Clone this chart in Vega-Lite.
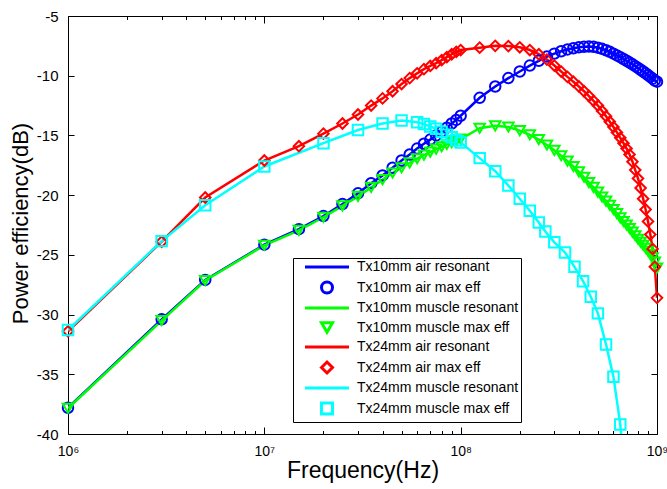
{
  "$schema": "https://vega.github.io/schema/vega-lite/v6.json",
  "width": 589,
  "height": 418,
  "autosize": {"type": "none"},
  "padding": {"left": 68, "top": 16, "right": 10, "bottom": 55},
  "background": "white",
  "config": {
    "view": {"stroke": null},
    "font": "Liberation Sans",
    "axis": {"grid": false, "domainColor": "black", "tickColor": "black", "labelColor": "black", "titleColor": "black", "labelFont": "Liberation Sans", "titleFont": "Liberation Sans", "titleFontWeight": "normal", "domainWidth": 1, "tickWidth": 1, "labelFlush": false, "labelOverlap": false},
    "legend": {"labelFont": "Liberation Sans", "labelFontSize": 14, "labelColor": "black", "strokeColor": "black", "fillColor": "white", "padding": 2, "symbolSize": 121, "symbolStrokeWidth": 3, "symbolOffset": 25, "labelOffset": 23, "rowPadding": 1.5, "labelLimit": 400}
  },
  "datasets": {
    "d": [
      {"f": 1000000, "v": -37.8, "ln": "Tx10mm air resonant", "mk": "Tx10mm air max eff"},
      {"f": 3000000, "v": -30.4, "ln": "Tx10mm air resonant", "mk": "Tx10mm air max eff"},
      {"f": 5000000, "v": -27.1, "ln": "Tx10mm air resonant", "mk": "Tx10mm air max eff"},
      {"f": 10000000, "v": -24.15, "ln": "Tx10mm air resonant", "mk": "Tx10mm air max eff"},
      {"f": 15000000, "v": -22.85, "ln": "Tx10mm air resonant", "mk": "Tx10mm air max eff"},
      {"f": 20000000, "v": -21.75, "ln": "Tx10mm air resonant", "mk": "Tx10mm air max eff"},
      {"f": 25000000, "v": -20.75, "ln": "Tx10mm air resonant", "mk": "Tx10mm air max eff"},
      {"f": 30000000, "v": -19.85, "ln": "Tx10mm air resonant", "mk": "Tx10mm air max eff"},
      {"f": 35000000, "v": -19.0, "ln": "Tx10mm air resonant", "mk": "Tx10mm air max eff"},
      {"f": 40000000, "v": -18.35, "ln": "Tx10mm air resonant", "mk": "Tx10mm air max eff"},
      {"f": 45000000, "v": -17.7, "ln": "Tx10mm air resonant", "mk": "Tx10mm air max eff"},
      {"f": 50000000, "v": -17.1, "ln": "Tx10mm air resonant", "mk": "Tx10mm air max eff"},
      {"f": 55000000, "v": -16.6, "ln": "Tx10mm air resonant", "mk": "Tx10mm air max eff"},
      {"f": 60000000, "v": -16.1, "ln": "Tx10mm air resonant", "mk": "Tx10mm air max eff"},
      {"f": 65000000, "v": -15.7, "ln": "Tx10mm air resonant", "mk": "Tx10mm air max eff"},
      {"f": 70000000, "v": -15.35, "ln": "Tx10mm air resonant", "mk": "Tx10mm air max eff"},
      {"f": 75000000, "v": -15.0, "ln": "Tx10mm air resonant", "mk": "Tx10mm air max eff"},
      {"f": 80000000, "v": -14.7, "ln": "Tx10mm air resonant", "mk": "Tx10mm air max eff"},
      {"f": 85000000, "v": -14.35, "ln": "Tx10mm air resonant", "mk": "Tx10mm air max eff"},
      {"f": 90000000, "v": -14.0, "ln": "Tx10mm air resonant", "mk": "Tx10mm air max eff"},
      {"f": 95000000, "v": -13.7, "ln": "Tx10mm air resonant", "mk": "Tx10mm air max eff"},
      {"f": 100000000, "v": -13.35, "ln": "Tx10mm air resonant", "mk": "Tx10mm air max eff"},
      {"f": 125000000, "v": -11.85, "ln": "Tx10mm air resonant", "mk": "Tx10mm air max eff"},
      {"f": 150000000, "v": -10.9, "ln": "Tx10mm air resonant", "mk": "Tx10mm air max eff"},
      {"f": 175000000, "v": -10.2, "ln": "Tx10mm air resonant", "mk": "Tx10mm air max eff"},
      {"f": 200000000, "v": -9.65, "ln": "Tx10mm air resonant", "mk": "Tx10mm air max eff"},
      {"f": 225000000, "v": -9.15, "ln": "Tx10mm air resonant", "mk": "Tx10mm air max eff"},
      {"f": 250000000, "v": -8.75, "ln": "Tx10mm air resonant", "mk": "Tx10mm air max eff"},
      {"f": 275000000, "v": -8.4, "ln": "Tx10mm air resonant", "mk": "Tx10mm air max eff"},
      {"f": 300000000, "v": -8.15, "ln": "Tx10mm air resonant", "mk": "Tx10mm air max eff"},
      {"f": 325000000, "v": -7.95, "ln": "Tx10mm air resonant", "mk": "Tx10mm air max eff"},
      {"f": 350000000, "v": -7.8, "ln": "Tx10mm air resonant", "mk": "Tx10mm air max eff"},
      {"f": 375000000, "v": -7.7, "ln": "Tx10mm air resonant", "mk": "Tx10mm air max eff"},
      {"f": 400000000, "v": -7.62, "ln": "Tx10mm air resonant", "mk": "Tx10mm air max eff"},
      {"f": 425000000, "v": -7.58, "ln": "Tx10mm air resonant", "mk": "Tx10mm air max eff"},
      {"f": 450000000, "v": -7.56, "ln": "Tx10mm air resonant", "mk": "Tx10mm air max eff"},
      {"f": 475000000, "v": -7.58, "ln": "Tx10mm air resonant", "mk": "Tx10mm air max eff"},
      {"f": 500000000, "v": -7.65, "ln": "Tx10mm air resonant", "mk": "Tx10mm air max eff"},
      {"f": 525000000, "v": -7.75, "ln": "Tx10mm air resonant", "mk": "Tx10mm air max eff"},
      {"f": 550000000, "v": -7.87, "ln": "Tx10mm air resonant", "mk": "Tx10mm air max eff"},
      {"f": 575000000, "v": -8.0, "ln": "Tx10mm air resonant", "mk": "Tx10mm air max eff"},
      {"f": 600000000, "v": -8.15, "ln": "Tx10mm air resonant", "mk": "Tx10mm air max eff"},
      {"f": 625000000, "v": -8.3, "ln": "Tx10mm air resonant", "mk": "Tx10mm air max eff"},
      {"f": 650000000, "v": -8.45, "ln": "Tx10mm air resonant", "mk": "Tx10mm air max eff"},
      {"f": 675000000, "v": -8.6, "ln": "Tx10mm air resonant", "mk": "Tx10mm air max eff"},
      {"f": 700000000, "v": -8.75, "ln": "Tx10mm air resonant", "mk": "Tx10mm air max eff"},
      {"f": 725000000, "v": -8.9, "ln": "Tx10mm air resonant", "mk": "Tx10mm air max eff"},
      {"f": 750000000, "v": -9.05, "ln": "Tx10mm air resonant", "mk": "Tx10mm air max eff"},
      {"f": 775000000, "v": -9.2, "ln": "Tx10mm air resonant", "mk": "Tx10mm air max eff"},
      {"f": 800000000, "v": -9.35, "ln": "Tx10mm air resonant", "mk": "Tx10mm air max eff"},
      {"f": 825000000, "v": -9.5, "ln": "Tx10mm air resonant", "mk": "Tx10mm air max eff"},
      {"f": 850000000, "v": -9.65, "ln": "Tx10mm air resonant", "mk": "Tx10mm air max eff"},
      {"f": 875000000, "v": -9.8, "ln": "Tx10mm air resonant", "mk": "Tx10mm air max eff"},
      {"f": 900000000, "v": -9.95, "ln": "Tx10mm air resonant", "mk": "Tx10mm air max eff"},
      {"f": 925000000, "v": -10.1, "ln": "Tx10mm air resonant", "mk": "Tx10mm air max eff"},
      {"f": 950000000, "v": -10.25, "ln": "Tx10mm air resonant", "mk": "Tx10mm air max eff"},
      {"f": 975000000, "v": -10.4, "ln": "Tx10mm air resonant", "mk": "Tx10mm air max eff"},
      {"f": 1000000000, "v": -10.5, "ln": "Tx10mm air resonant", "mk": "Tx10mm air max eff"},

      {"f": 1000000, "v": -37.85, "ln": "Tx10mm muscle resonant", "mk": "Tx10mm muscle max eff"},
      {"f": 3000000, "v": -30.5, "ln": "Tx10mm muscle resonant", "mk": "Tx10mm muscle max eff"},
      {"f": 5000000, "v": -27.15, "ln": "Tx10mm muscle resonant", "mk": "Tx10mm muscle max eff"},
      {"f": 10000000, "v": -24.2, "ln": "Tx10mm muscle resonant", "mk": "Tx10mm muscle max eff"},
      {"f": 15000000, "v": -22.95, "ln": "Tx10mm muscle resonant", "mk": "Tx10mm muscle max eff"},
      {"f": 20000000, "v": -21.85, "ln": "Tx10mm muscle resonant", "mk": "Tx10mm muscle max eff"},
      {"f": 25000000, "v": -20.9, "ln": "Tx10mm muscle resonant", "mk": "Tx10mm muscle max eff"},
      {"f": 30000000, "v": -20.1, "ln": "Tx10mm muscle resonant", "mk": "Tx10mm muscle max eff"},
      {"f": 35000000, "v": -19.35, "ln": "Tx10mm muscle resonant", "mk": "Tx10mm muscle max eff"},
      {"f": 40000000, "v": -18.7, "ln": "Tx10mm muscle resonant", "mk": "Tx10mm muscle max eff"},
      {"f": 45000000, "v": -18.15, "ln": "Tx10mm muscle resonant", "mk": "Tx10mm muscle max eff"},
      {"f": 50000000, "v": -17.7, "ln": "Tx10mm muscle resonant", "mk": "Tx10mm muscle max eff"},
      {"f": 55000000, "v": -17.3, "ln": "Tx10mm muscle resonant", "mk": "Tx10mm muscle max eff"},
      {"f": 60000000, "v": -16.95, "ln": "Tx10mm muscle resonant", "mk": "Tx10mm muscle max eff"},
      {"f": 65000000, "v": -16.65, "ln": "Tx10mm muscle resonant", "mk": "Tx10mm muscle max eff"},
      {"f": 70000000, "v": -16.4, "ln": "Tx10mm muscle resonant", "mk": "Tx10mm muscle max eff"},
      {"f": 75000000, "v": -16.15, "ln": "Tx10mm muscle resonant", "mk": "Tx10mm muscle max eff"},
      {"f": 80000000, "v": -15.95, "ln": "Tx10mm muscle resonant", "mk": "Tx10mm muscle max eff"},
      {"f": 85000000, "v": -15.75, "ln": "Tx10mm muscle resonant", "mk": "Tx10mm muscle max eff"},
      {"f": 90000000, "v": -15.6, "ln": "Tx10mm muscle resonant", "mk": "Tx10mm muscle max eff"},
      {"f": 95000000, "v": -15.45, "ln": "Tx10mm muscle resonant", "mk": "Tx10mm muscle max eff"},
      {"f": 100000000, "v": -15.3, "ln": "Tx10mm muscle resonant", "mk": "Tx10mm muscle max eff"},
      {"f": 125000000, "v": -14.4, "ln": "Tx10mm muscle resonant", "mk": "Tx10mm muscle max eff"},
      {"f": 150000000, "v": -14.2, "ln": "Tx10mm muscle resonant", "mk": "Tx10mm muscle max eff"},
      {"f": 175000000, "v": -14.3, "ln": "Tx10mm muscle resonant", "mk": "Tx10mm muscle max eff"},
      {"f": 200000000, "v": -14.6, "ln": "Tx10mm muscle resonant", "mk": "Tx10mm muscle max eff"},
      {"f": 225000000, "v": -14.95, "ln": "Tx10mm muscle resonant", "mk": "Tx10mm muscle max eff"},
      {"f": 250000000, "v": -15.35, "ln": "Tx10mm muscle resonant", "mk": "Tx10mm muscle max eff"},
      {"f": 275000000, "v": -15.8, "ln": "Tx10mm muscle resonant", "mk": "Tx10mm muscle max eff"},
      {"f": 300000000, "v": -16.25, "ln": "Tx10mm muscle resonant", "mk": "Tx10mm muscle max eff"},
      {"f": 325000000, "v": -16.7, "ln": "Tx10mm muscle resonant", "mk": "Tx10mm muscle max eff"},
      {"f": 350000000, "v": -17.15, "ln": "Tx10mm muscle resonant", "mk": "Tx10mm muscle max eff"},
      {"f": 375000000, "v": -17.6, "ln": "Tx10mm muscle resonant", "mk": "Tx10mm muscle max eff"},
      {"f": 400000000, "v": -18.05, "ln": "Tx10mm muscle resonant", "mk": "Tx10mm muscle max eff"},
      {"f": 425000000, "v": -18.5, "ln": "Tx10mm muscle resonant", "mk": "Tx10mm muscle max eff"},
      {"f": 450000000, "v": -18.95, "ln": "Tx10mm muscle resonant", "mk": "Tx10mm muscle max eff"},
      {"f": 475000000, "v": -19.35, "ln": "Tx10mm muscle resonant", "mk": "Tx10mm muscle max eff"},
      {"f": 500000000, "v": -19.75, "ln": "Tx10mm muscle resonant", "mk": "Tx10mm muscle max eff"},
      {"f": 525000000, "v": -20.15, "ln": "Tx10mm muscle resonant", "mk": "Tx10mm muscle max eff"},
      {"f": 550000000, "v": -20.5, "ln": "Tx10mm muscle resonant", "mk": "Tx10mm muscle max eff"},
      {"f": 575000000, "v": -20.85, "ln": "Tx10mm muscle resonant", "mk": "Tx10mm muscle max eff"},
      {"f": 600000000, "v": -21.2, "ln": "Tx10mm muscle resonant", "mk": "Tx10mm muscle max eff"},
      {"f": 625000000, "v": -21.55, "ln": "Tx10mm muscle resonant", "mk": "Tx10mm muscle max eff"},
      {"f": 650000000, "v": -21.9, "ln": "Tx10mm muscle resonant", "mk": "Tx10mm muscle max eff"},
      {"f": 675000000, "v": -22.2, "ln": "Tx10mm muscle resonant", "mk": "Tx10mm muscle max eff"},
      {"f": 700000000, "v": -22.5, "ln": "Tx10mm muscle resonant", "mk": "Tx10mm muscle max eff"},
      {"f": 725000000, "v": -22.8, "ln": "Tx10mm muscle resonant", "mk": "Tx10mm muscle max eff"},
      {"f": 750000000, "v": -23.1, "ln": "Tx10mm muscle resonant", "mk": "Tx10mm muscle max eff"},
      {"f": 775000000, "v": -23.4, "ln": "Tx10mm muscle resonant", "mk": "Tx10mm muscle max eff"},
      {"f": 800000000, "v": -23.7, "ln": "Tx10mm muscle resonant", "mk": "Tx10mm muscle max eff"},
      {"f": 825000000, "v": -23.95, "ln": "Tx10mm muscle resonant", "mk": "Tx10mm muscle max eff"},
      {"f": 850000000, "v": -24.2, "ln": "Tx10mm muscle resonant", "mk": "Tx10mm muscle max eff"},
      {"f": 875000000, "v": -24.45, "ln": "Tx10mm muscle resonant", "mk": "Tx10mm muscle max eff"},
      {"f": 900000000, "v": -24.7, "ln": "Tx10mm muscle resonant", "mk": "Tx10mm muscle max eff"},
      {"f": 925000000, "v": -24.95, "ln": "Tx10mm muscle resonant", "mk": "Tx10mm muscle max eff"},
      {"f": 950000000, "v": -25.25, "ln": "Tx10mm muscle resonant", "mk": "Tx10mm muscle max eff"},
      {"f": 975000000, "v": -25.6, "ln": "Tx10mm muscle resonant", "mk": "Tx10mm muscle max eff"},
      {"f": 1000000000, "v": -26.1, "ln": "Tx10mm muscle resonant", "mk": "Tx10mm muscle max eff"},

      {"f": 1000000, "v": -31.4, "ln": "Tx24mm air resonant", "mk": "Tx24mm air max eff"},
      {"f": 3000000, "v": -23.9, "ln": "Tx24mm air resonant", "mk": "Tx24mm air max eff"},
      {"f": 5000000, "v": -20.2, "ln": "Tx24mm air resonant", "mk": "Tx24mm air max eff"},
      {"f": 10000000, "v": -17.1, "ln": "Tx24mm air resonant", "mk": "Tx24mm air max eff"},
      {"f": 15000000, "v": -15.9, "ln": "Tx24mm air resonant", "mk": "Tx24mm air max eff"},
      {"f": 20000000, "v": -14.85, "ln": "Tx24mm air resonant", "mk": "Tx24mm air max eff"},
      {"f": 25000000, "v": -14.0, "ln": "Tx24mm air resonant", "mk": "Tx24mm air max eff"},
      {"f": 30000000, "v": -13.25, "ln": "Tx24mm air resonant", "mk": "Tx24mm air max eff"},
      {"f": 35000000, "v": -12.5, "ln": "Tx24mm air resonant", "mk": "Tx24mm air max eff"},
      {"f": 40000000, "v": -11.9, "ln": "Tx24mm air resonant", "mk": "Tx24mm air max eff"},
      {"f": 45000000, "v": -11.3, "ln": "Tx24mm air resonant", "mk": "Tx24mm air max eff"},
      {"f": 50000000, "v": -10.7, "ln": "Tx24mm air resonant", "mk": "Tx24mm air max eff"},
      {"f": 55000000, "v": -10.2, "ln": "Tx24mm air resonant", "mk": "Tx24mm air max eff"},
      {"f": 60000000, "v": -9.8, "ln": "Tx24mm air resonant", "mk": "Tx24mm air max eff"},
      {"f": 65000000, "v": -9.45, "ln": "Tx24mm air resonant", "mk": "Tx24mm air max eff"},
      {"f": 70000000, "v": -9.18, "ln": "Tx24mm air resonant", "mk": "Tx24mm air max eff"},
      {"f": 75000000, "v": -8.95, "ln": "Tx24mm air resonant", "mk": "Tx24mm air max eff"},
      {"f": 80000000, "v": -8.7, "ln": "Tx24mm air resonant", "mk": "Tx24mm air max eff"},
      {"f": 85000000, "v": -8.45, "ln": "Tx24mm air resonant", "mk": "Tx24mm air max eff"},
      {"f": 90000000, "v": -8.2, "ln": "Tx24mm air resonant", "mk": "Tx24mm air max eff"},
      {"f": 95000000, "v": -8.0, "ln": "Tx24mm air resonant", "mk": "Tx24mm air max eff"},
      {"f": 100000000, "v": -7.85, "ln": "Tx24mm air resonant", "mk": "Tx24mm air max eff"},
      {"f": 125000000, "v": -7.65, "ln": "Tx24mm air resonant", "mk": "Tx24mm air max eff"},
      {"f": 150000000, "v": -7.5, "ln": "Tx24mm air resonant", "mk": "Tx24mm air max eff"},
      {"f": 175000000, "v": -7.52, "ln": "Tx24mm air resonant", "mk": "Tx24mm air max eff"},
      {"f": 200000000, "v": -7.62, "ln": "Tx24mm air resonant", "mk": "Tx24mm air max eff"},
      {"f": 225000000, "v": -7.85, "ln": "Tx24mm air resonant", "mk": "Tx24mm air max eff"},
      {"f": 250000000, "v": -8.2, "ln": "Tx24mm air resonant", "mk": "Tx24mm air max eff"},
      {"f": 275000000, "v": -8.65, "ln": "Tx24mm air resonant", "mk": "Tx24mm air max eff"},
      {"f": 300000000, "v": -9.15, "ln": "Tx24mm air resonant", "mk": "Tx24mm air max eff"},
      {"f": 325000000, "v": -9.65, "ln": "Tx24mm air resonant", "mk": "Tx24mm air max eff"},
      {"f": 350000000, "v": -10.1, "ln": "Tx24mm air resonant", "mk": "Tx24mm air max eff"},
      {"f": 375000000, "v": -10.5, "ln": "Tx24mm air resonant", "mk": "Tx24mm air max eff"},
      {"f": 400000000, "v": -10.9, "ln": "Tx24mm air resonant", "mk": "Tx24mm air max eff"},
      {"f": 425000000, "v": -11.3, "ln": "Tx24mm air resonant", "mk": "Tx24mm air max eff"},
      {"f": 450000000, "v": -11.7, "ln": "Tx24mm air resonant", "mk": "Tx24mm air max eff"},
      {"f": 475000000, "v": -12.1, "ln": "Tx24mm air resonant", "mk": "Tx24mm air max eff"},
      {"f": 500000000, "v": -12.5, "ln": "Tx24mm air resonant", "mk": "Tx24mm air max eff"},
      {"f": 525000000, "v": -12.95, "ln": "Tx24mm air resonant", "mk": "Tx24mm air max eff"},
      {"f": 550000000, "v": -13.4, "ln": "Tx24mm air resonant", "mk": "Tx24mm air max eff"},
      {"f": 575000000, "v": -13.85, "ln": "Tx24mm air resonant", "mk": "Tx24mm air max eff"},
      {"f": 600000000, "v": -14.3, "ln": "Tx24mm air resonant", "mk": "Tx24mm air max eff"},
      {"f": 625000000, "v": -14.75, "ln": "Tx24mm air resonant", "mk": "Tx24mm air max eff"},
      {"f": 650000000, "v": -15.2, "ln": "Tx24mm air resonant", "mk": "Tx24mm air max eff"},
      {"f": 675000000, "v": -15.65, "ln": "Tx24mm air resonant", "mk": "Tx24mm air max eff"},
      {"f": 700000000, "v": -16.1, "ln": "Tx24mm air resonant", "mk": "Tx24mm air max eff"},
      {"f": 725000000, "v": -16.6, "ln": "Tx24mm air resonant", "mk": "Tx24mm air max eff"},
      {"f": 750000000, "v": -17.2, "ln": "Tx24mm air resonant", "mk": "Tx24mm air max eff"},
      {"f": 775000000, "v": -17.9, "ln": "Tx24mm air resonant", "mk": "Tx24mm air max eff"},
      {"f": 800000000, "v": -18.6, "ln": "Tx24mm air resonant", "mk": "Tx24mm air max eff"},
      {"f": 825000000, "v": -19.4, "ln": "Tx24mm air resonant", "mk": "Tx24mm air max eff"},
      {"f": 850000000, "v": -20.3, "ln": "Tx24mm air resonant", "mk": "Tx24mm air max eff"},
      {"f": 875000000, "v": -21.2, "ln": "Tx24mm air resonant", "mk": "Tx24mm air max eff"},
      {"f": 900000000, "v": -22.2, "ln": "Tx24mm air resonant", "mk": "Tx24mm air max eff"},
      {"f": 925000000, "v": -23.3, "ln": "Tx24mm air resonant", "mk": "Tx24mm air max eff"},
      {"f": 950000000, "v": -24.5, "ln": "Tx24mm air resonant", "mk": "Tx24mm air max eff"},
      {"f": 975000000, "v": -26.0, "ln": "Tx24mm air resonant", "mk": "Tx24mm air max eff"},
      {"f": 1000000000, "v": -28.6, "ln": "Tx24mm air resonant", "mk": "Tx24mm air max eff"},

      {"f": 1000000, "v": -31.3, "ln": "Tx24mm muscle resonant", "mk": "Tx24mm muscle max eff"},
      {"f": 3000000, "v": -23.85, "ln": "Tx24mm muscle resonant", "mk": "Tx24mm muscle max eff"},
      {"f": 5000000, "v": -20.85, "ln": "Tx24mm muscle resonant", "mk": "Tx24mm muscle max eff"},
      {"f": 10000000, "v": -17.6, "ln": "Tx24mm muscle resonant", "mk": "Tx24mm muscle max eff"},
      {"f": 20000000, "v": -15.65, "ln": "Tx24mm muscle resonant", "mk": "Tx24mm muscle max eff"},
      {"f": 30000000, "v": -14.55, "ln": "Tx24mm muscle resonant", "mk": "Tx24mm muscle max eff"},
      {"f": 40000000, "v": -14.0, "ln": "Tx24mm muscle resonant", "mk": "Tx24mm muscle max eff"},
      {"f": 50000000, "v": -13.75, "ln": "Tx24mm muscle resonant", "mk": "Tx24mm muscle max eff"},
      {"f": 60000000, "v": -13.9, "ln": "Tx24mm muscle resonant", "mk": "Tx24mm muscle max eff"},
      {"f": 65000000, "v": -14.05, "ln": "Tx24mm muscle resonant", "mk": "Tx24mm muscle max eff"},
      {"f": 70000000, "v": -14.25, "ln": "Tx24mm muscle resonant", "mk": "Tx24mm muscle max eff"},
      {"f": 75000000, "v": -14.45, "ln": "Tx24mm muscle resonant", "mk": "Tx24mm muscle max eff"},
      {"f": 80000000, "v": -14.7, "ln": "Tx24mm muscle resonant", "mk": "Tx24mm muscle max eff"},
      {"f": 85000000, "v": -14.95, "ln": "Tx24mm muscle resonant", "mk": "Tx24mm muscle max eff"},
      {"f": 90000000, "v": -15.15, "ln": "Tx24mm muscle resonant", "mk": "Tx24mm muscle max eff"},
      {"f": 95000000, "v": -15.4, "ln": "Tx24mm muscle resonant", "mk": "Tx24mm muscle max eff"},
      {"f": 100000000, "v": -15.6, "ln": "Tx24mm muscle resonant", "mk": "Tx24mm muscle max eff"},
      {"f": 125000000, "v": -16.9, "ln": "Tx24mm muscle resonant", "mk": "Tx24mm muscle max eff"},
      {"f": 150000000, "v": -18.0, "ln": "Tx24mm muscle resonant", "mk": "Tx24mm muscle max eff"},
      {"f": 175000000, "v": -19.2, "ln": "Tx24mm muscle resonant", "mk": "Tx24mm muscle max eff"},
      {"f": 200000000, "v": -20.3, "ln": "Tx24mm muscle resonant", "mk": "Tx24mm muscle max eff"},
      {"f": 225000000, "v": -21.3, "ln": "Tx24mm muscle resonant", "mk": "Tx24mm muscle max eff"},
      {"f": 250000000, "v": -22.3, "ln": "Tx24mm muscle resonant", "mk": "Tx24mm muscle max eff"},
      {"f": 270000000, "v": -23.05, "ln": "Tx24mm muscle resonant", "mk": "Tx24mm muscle max eff"},
      {"f": 300000000, "v": -23.95, "ln": "Tx24mm muscle resonant", "mk": "Tx24mm muscle max eff"},
      {"f": 340000000, "v": -24.8, "ln": "Tx24mm muscle resonant", "mk": "Tx24mm muscle max eff"},
      {"f": 380000000, "v": -26.0, "ln": "Tx24mm muscle resonant", "mk": "Tx24mm muscle max eff"},
      {"f": 420000000, "v": -27.2, "ln": "Tx24mm muscle resonant", "mk": "Tx24mm muscle max eff"},
      {"f": 460000000, "v": -28.5, "ln": "Tx24mm muscle resonant", "mk": "Tx24mm muscle max eff"},
      {"f": 500000000, "v": -29.9, "ln": "Tx24mm muscle resonant", "mk": "Tx24mm muscle max eff"},
      {"f": 550000000, "v": -32.5, "ln": "Tx24mm muscle resonant", "mk": "Tx24mm muscle max eff"},
      {"f": 600000000, "v": -35.2, "ln": "Tx24mm muscle resonant", "mk": "Tx24mm muscle max eff"},
      {"f": 650000000, "v": -39.2, "ln": "Tx24mm muscle resonant", "mk": "Tx24mm muscle max eff"},
      {"f": 700000000, "v": -45.0, "ln": "Tx24mm muscle resonant", "mk": "Tx24mm muscle max eff"}
    ]
  },
  "data": {"name": "d"},
  "layer": [
    {
      "mark": {"type": "line", "strokeWidth": 2.5, "clip": true},
      "encoding": {
        "x": {"field": "f", "type": "quantitative", "scale": {"type": "log", "domain": [1000000, 1000000000]},
              "axis": {"orient": "bottom", "values": [1000000, 10000000, 100000000, 1000000000], "tickSize": -7, "labelPadding": 17, "labelFontSize": 14,
                       "labelExpr": "datum.value == 1000000 ? '10⁶' : datum.value == 10000000 ? '10⁷' : datum.value == 100000000 ? '10⁸' : '10⁹'",
                       "title": "Frequency(Hz)", "titleFontSize": 23, "titleX": 294.5, "titleY": 36, "titleBaseline": "middle", "titleAnchor": "middle"}},
        "y": {"field": "v", "type": "quantitative", "scale": {"domain": [-40, -5], "nice": false, "zero": false},
              "axis": {"orient": "left", "values": [-40, -35, -30, -25, -20, -15, -10, -5], "tickSize": -6, "labelPadding": 16, "labelFontSize": 15,
                       "labelExpr": "'' + datum.value",
                       "title": "Power efficiency(dB)", "titleFontSize": 22, "titleX": -48, "titleY": 207, "titleBaseline": "middle", "titleAngle": -90, "titleAnchor": "middle"}},
        "color": {"field": "ln", "type": "nominal",
                  "scale": {"domain": ["Tx10mm air resonant", "Tx10mm air max eff", "Tx10mm muscle resonant", "Tx10mm muscle max eff", "Tx24mm air resonant", "Tx24mm air max eff", "Tx24mm muscle resonant", "Tx24mm muscle max eff"],
                            "range": ["#0000ff", "#0000ff", "#00ff00", "#00ff00", "#ff0000", "#ff0000", "#00ffff", "#00ffff"]},
                  "legend": {"orient": "none", "legendX": 225, "legendY": 242, "title": null}}
      }
    },
    {
      "transform": [{"filter": "datum.v >= -40"}],
      "mark": {"type": "point", "filled": false, "size": 110, "strokeWidth": 2, "opacity": 1},
      "encoding": {
        "x": {"field": "f", "type": "quantitative", "axis": {"orient": "top", "values": [1000000, 10000000, 100000000, 1000000000], "tickSize": -7, "labels": false, "title": null}},
        "y": {"field": "v", "type": "quantitative", "axis": {"orient": "right", "values": [-40, -35, -30, -25, -20, -15, -10, -5], "tickSize": -6, "labels": false, "title": null}},
        "color": {"field": "mk", "type": "nominal",
                  "scale": {"domain": ["Tx10mm air resonant", "Tx10mm air max eff", "Tx10mm muscle resonant", "Tx10mm muscle max eff", "Tx24mm air resonant", "Tx24mm air max eff", "Tx24mm muscle resonant", "Tx24mm muscle max eff"],
                            "range": ["#0000ff", "#0000ff", "#00ff00", "#00ff00", "#ff0000", "#ff0000", "#00ffff", "#00ffff"]},
                  "legend": {"orient": "none", "legendX": 225, "legendY": 242, "title": null}},
        "shape": {"field": "mk", "type": "nominal",
                  "scale": {"domain": ["Tx10mm air resonant", "Tx10mm air max eff", "Tx10mm muscle resonant", "Tx10mm muscle max eff", "Tx24mm air resonant", "Tx24mm air max eff", "Tx24mm muscle resonant", "Tx24mm muscle max eff"],
                            "range": ["M-4,0H4", "circle", "M-4,0H4", "triangle-down", "M-4,0H4", "diamond", "M-4,0H4", "square"]},
                  "legend": {"orient": "none", "legendX": 225, "legendY": 242, "title": null}}
      }
    },
    {
      "mark": {"type": "rule", "opacity": 0},
      "encoding": {
        "x": {"field": "f", "type": "quantitative", "axis": {"orient": "bottom", "values": [2000000, 3000000, 4000000, 5000000, 6000000, 7000000, 8000000, 9000000, 20000000, 30000000, 40000000, 50000000, 60000000, 70000000, 80000000, 90000000, 200000000, 300000000, 400000000, 500000000, 600000000, 700000000, 800000000, 900000000], "tickSize": -3.5, "labels": false, "domain": false, "title": null}}
      }
    },
    {
      "mark": {"type": "rule", "opacity": 0},
      "encoding": {
        "x": {"field": "f", "type": "quantitative", "axis": {"orient": "top", "values": [2000000, 3000000, 4000000, 5000000, 6000000, 7000000, 8000000, 9000000, 20000000, 30000000, 40000000, 50000000, 60000000, 70000000, 80000000, 90000000, 200000000, 300000000, 400000000, 500000000, 600000000, 700000000, 800000000, 900000000], "tickSize": -3.5, "labels": false, "domain": false, "title": null}}
      }
    }
  ],
  "resolve": {"axis": {"x": "independent", "y": "independent"}}
}
